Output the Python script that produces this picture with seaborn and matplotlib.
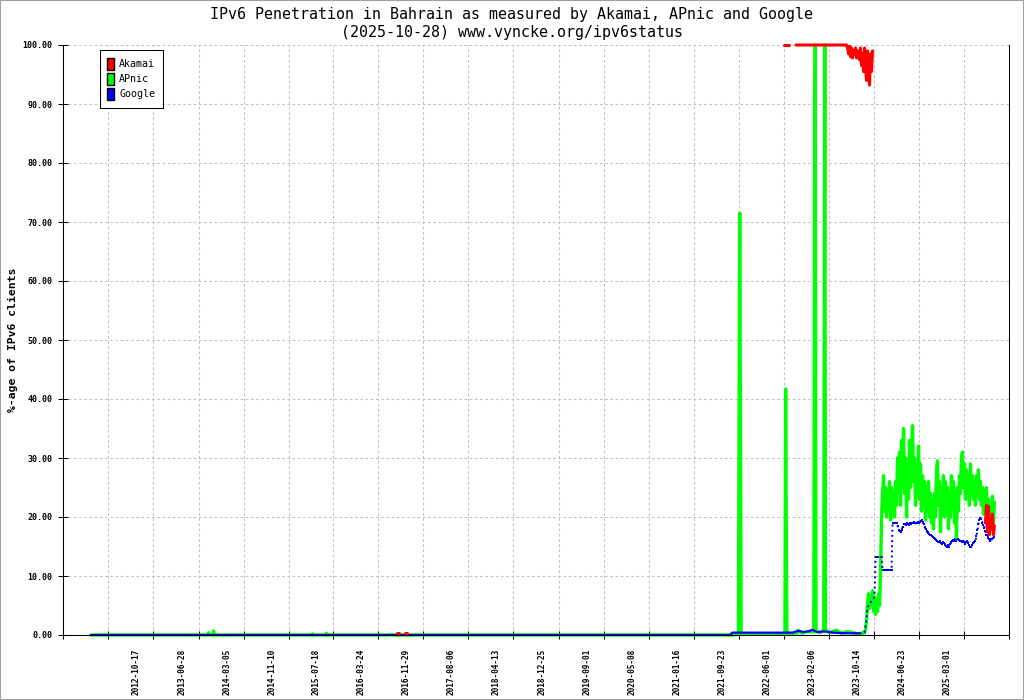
import pandas as pd
import seaborn as sns
import matplotlib.dates as mdates
from matplotlib import pyplot as plt, transforms
from matplotlib.patches import Patch, Rectangle

# --- data (percent of IPv6 clients) ---
# dense part, roughly one sample per pixel column from 2023-07 on
late_dates = pd.date_range("2023-07-27", "2025-08-16", periods=136)

apnic_early_dates = ["2011-11-05", "2013-08-15", "2013-08-21", "2013-08-27", "2013-09-14", "2013-09-18",
                     "2013-09-22", "2015-03-18", "2015-03-22", "2015-03-26", "2015-06-04", "2015-06-08",
                     "2015-06-12", "2021-08-10", "2021-08-14", "2021-08-18", "2021-09-20", "2021-09-27",
                     "2021-10-01", "2021-10-05", "2022-06-06", "2022-06-10", "2022-06-13", "2022-06-17",
                     "2022-08-10", "2022-08-20", "2022-09-10", "2022-10-05", "2022-11-14", "2022-11-18",
                     "2022-11-22", "2022-11-26", "2022-12-20", "2023-01-08", "2023-01-11", "2023-01-14",
                     "2023-01-18", "2023-02-10", "2023-03-20", "2023-04-15", "2023-05-20", "2023-07-20"]
apnic_early = [0.0, 0.0, 0.4, 0.0, 0.0, 0.7,
               0.0, 0.0, 0.2, 0.0, 0.0, 0.3,
               0.0, 0.0, 0.3, 0.0, 0.1, 71.5,
               35.5, 0.2, 0.2, 41.7, 21.0, 0.3,
               0.3, 0.8, 0.3, 0.6, 0.5, 75.0,
               100.0, 0.6, 0.4, 0.8, 50.0, 100.0,
               0.9, 0.4, 0.8, 0.3, 0.6, 0.2]
apnic_late = [0.2, 0.3, 0.2, 0.4, 0.3, 0.5, 1.0, 2.5, 5.5, 7.0,
              4.5, 6.5, 5.0, 7.5, 4.0, 6.5, 3.5, 6.0, 4.0, 7.0,
              5.0, 11.0, 20.0, 24.0, 27.0, 21.0, 25.0, 20.0, 24.0, 22.0,
              26.0, 19.5, 25.0, 21.0, 24.0, 20.0, 26.0, 22.0, 30.0, 24.0,
              31.0, 22.0, 33.0, 25.0, 35.0, 24.0, 30.0, 20.0, 29.0, 23.0,
              33.0, 25.0, 31.0, 35.5, 26.0, 30.0, 22.0, 28.0, 24.0, 32.0,
              23.0, 29.0, 21.0, 27.0, 22.0, 26.0, 19.5, 25.0, 21.0, 26.0,
              20.0, 24.0, 19.0, 23.0, 18.0, 24.0, 20.0, 28.0, 29.5, 22.0,
              26.0, 17.5, 25.0, 21.0, 27.0, 20.0, 26.0, 22.0, 25.0, 18.0,
              24.0, 20.0, 27.0, 22.0, 26.0, 19.0, 24.0, 16.5, 25.0, 21.0,
              27.0, 24.0, 30.0, 31.0, 25.0, 29.0, 23.0, 28.0, 24.0, 27.0,
              22.0, 29.0, 24.0, 27.0, 23.0, 26.0, 22.0, 27.0, 24.0, 28.0,
              23.0, 26.0, 22.0, 25.0, 20.5, 24.5, 21.0, 25.0, 19.5, 23.0,
              20.0, 22.0, 18.5, 23.5, 19.0, 22.5]

google_early_dates = ["2011-11-05", "2021-08-01", "2021-08-20", "2022-06-01", "2022-07-20", "2022-08-16",
                      "2022-09-20", "2022-10-15", "2022-11-05", "2022-12-01", "2023-01-10", "2023-03-01",
                      "2023-05-01", "2023-07-27"]
google_early = [0.0, 0.0, 0.4, 0.4, 0.4, 0.7, 0.5, 0.6, 0.9, 0.5, 0.6, 0.4, 0.3, 0.3]
google_late = [0.3, 0.3, 0.3, 0.3, 0.3, 0.4, 1.5, 3.0, 4.7, 5.0,
               5.2, 5.5, 5.8, 6.0, 6.2, 6.5, 13.2, 13.2, 13.2, 13.2,
               13.2, 13.2, 13.2, 11.0, 11.0, 11.0, 11.0, 11.0, 11.0, 11.0,
               11.0, 11.0, 11.0, 19.0, 19.0, 19.0, 19.0, 19.0, 18.5, 17.8,
               17.6, 17.5, 17.8, 18.3, 18.8, 18.8, 18.6, 18.9, 18.8, 18.7,
               18.9, 18.8, 19.0, 19.0, 19.1, 19.0, 18.9, 19.0, 19.1, 19.0,
               19.2, 19.3, 19.5, 19.2, 18.8, 18.3, 18.0, 17.6, 17.4, 17.3,
               17.2, 17.0, 16.9, 16.7, 16.6, 16.4, 16.3, 16.1, 16.0, 15.8,
               15.7, 15.9, 15.6, 15.5, 15.8, 15.6, 15.3, 15.1, 15.0, 15.2,
               15.0, 15.4, 15.8, 16.0, 16.1, 16.0, 16.2, 16.0, 16.2, 16.3,
               16.1, 16.0, 15.9, 15.8, 16.0, 15.7, 15.5, 15.8, 15.9, 15.6,
               15.3, 15.0, 14.9, 15.3, 15.6, 15.8, 16.0, 16.8, 17.8, 18.8,
               19.5, 19.8, 19.6, 19.0, 18.6, 18.2, 17.6, 17.0, 17.0, 16.5,
               16.2, 16.0, 16.2, 16.3, 16.5, 16.6]

akamai_dates = ["2016-07-08", "2016-07-16", "2016-08-20", "2016-08-28",
                "2022-06-01", "2022-06-29", "2022-08-07", "2023-05-15"]
akamai_vals = [0.3, 0.3, 0.3, 0.3, 100.0, 100.0, 100.0, 100.0]
akamai_seg = [0, 0, 1, 1, 2, 2, 3, 3]
akamai_drop_dates = pd.date_range("2023-05-21", "2023-10-07", periods=26)
akamai_drop = [99.5, 98.5, 99.8, 98.0, 99.5, 97.8, 99.0, 98.5, 99.5, 97.8,
               99.0, 98.3, 97.5, 99.5, 96.5, 98.5, 95.5, 99.5, 96.0, 94.0,
               99.0, 95.0, 93.2, 98.5, 95.5, 99.0]
akamai_end = [19.0, 22.0, 17.5, 21.8, 17.0, 19.5, 18.0, 20.5, 17.0, 18.5]

tick_dates = ["2011-06-02", "2012-02-09", "2012-10-17", "2013-06-28", "2014-03-05", "2014-11-10",
              "2015-07-18", "2016-03-24", "2016-11-29", "2017-08-06", "2018-04-13", "2018-12-25",
              "2019-09-01", "2020-05-08", "2021-01-16", "2021-09-23", "2022-06-01", "2023-02-06",
              "2023-10-14", "2024-06-23", "2025-03-01", "2025-11-07"]
tick_labels = ["", ""] + tick_dates[2:-1] + [""]
y_ticks = [0, 10, 20, 30, 40, 50, 60, 70, 80, 90, 100]

# --- frames ---
apnic = pd.DataFrame({"date": pd.to_datetime(apnic_early_dates).append(late_dates),
                      "pct": apnic_early + apnic_late})
google_a = pd.DataFrame({"date": pd.to_datetime(google_early_dates), "pct": google_early})
google_b = pd.DataFrame({"date": late_dates, "pct": google_late})
akamai = pd.concat([
    pd.DataFrame({"date": pd.to_datetime(akamai_dates), "pct": akamai_vals, "seg": akamai_seg}),
    pd.DataFrame({"date": akamai_drop_dates, "pct": akamai_drop, "seg": 3}),
    pd.DataFrame({"date": late_dates[-len(akamai_end):], "pct": akamai_end, "seg": 4}),
], ignore_index=True)

sns.set_theme(style="whitegrid")
plt.rcParams["font.family"] = ["DejaVu Sans Mono"]
plt.rcParams["text.color"] = "black"

fig = plt.figure(figsize=(10.24, 7.0), dpi=100)
ax = fig.add_axes([63 / 1024, 65 / 700, 946.3 / 1024, 590 / 700])

sns.lineplot(data=apnic, x="date", y="pct", color="#00ff00", lw=2.4, estimator=None,
             clip_on=False, ax=ax)
sns.lineplot(data=google_a, x="date", y="pct", color="#0000ff", lw=1.6, estimator=None, ax=ax)
sns.lineplot(data=google_b, x="date", y="pct", color="#0000ff", lw=1.4, linestyle=":",
             estimator=None, ax=ax)
sns.scatterplot(data=google_b, x="date", y="pct", color="#0000ff", marker="s", s=2.5,
                linewidth=0, ax=ax)
sns.lineplot(data=akamai, x="date", y="pct", units="seg", estimator=None, color="#ff0000",
             lw=2.2, clip_on=False, ax=ax)

ax.set_xlim(mdates.date2num(pd.Timestamp("2011-06-02")), mdates.date2num(pd.Timestamp("2025-11-07")))
ax.set_ylim(0, 100)
ax.set_xticks(mdates.date2num(pd.to_datetime(tick_dates)))
ax.set_xticklabels(tick_labels, rotation=90, fontsize=5.6, fontweight="bold", va="top")
ax.set_yticks(y_ticks)
ax.set_yticklabels([f"{v:.2f}" for v in y_ticks], fontsize=6, fontweight="bold")
ax.set_xlabel("")
ax.set_ylabel("")

ax.grid(True, color="#c0c0c0", linestyle=(0, (2.5, 2.5)), linewidth=0.75)
ax.tick_params(axis="y", left=True, direction="inout", length=6.5, width=0.75, pad=4.5, colors="black")
ax.tick_params(axis="x", bottom=True, direction="inout", length=6, width=0.75, pad=7, colors="black")
for side in ["left", "bottom", "right"]:
    ax.spines[side].set_color("black")
    ax.spines[side].set_linewidth(0.75)
ax.spines["top"].set_visible(False)

# gnuplot-like placement of the rotated date labels
shift = transforms.ScaledTranslation(-17 / 100, 0, fig.dpi_scale_trans)
for lbl in ax.get_xticklabels():
    lbl.set_transform(lbl.get_transform() + shift)

handles = [Patch(facecolor="#ff0000", edgecolor="black", linewidth=1),
           Patch(facecolor="#00ff00", edgecolor="black", linewidth=1),
           Patch(facecolor="#0000ff", edgecolor="black", linewidth=1)]
leg = ax.legend(handles, ["Akamai", "APnic", "Google"], loc="upper left",
                bbox_to_anchor=(0.039, 0.9915), borderaxespad=0, fontsize=7.2,
                handlelength=0.69, handleheight=1.54, labelspacing=0.26, handletextpad=0.47,
                borderpad=0.75, fancybox=False, framealpha=1)
leg.get_frame().set_edgecolor("black")
leg.get_frame().set_linewidth(0.75)
for txt in leg.get_texts():
    txt.set_color("black")

fig.text(0.5, 1 - 14 / 700, "IPv6 Penetration in Bahrain as measured by Akamai, APnic and Google",
         ha="center", va="center", fontsize=10.8, color="black")
fig.text(0.5, 1 - 32 / 700, "(2025-10-28) www.vyncke.org/ipv6status",
         ha="center", va="center", fontsize=10.8, color="black")
fig.text(13 / 1024, 1 - 340 / 700, "%-age of IPv6 clients", rotation=90, ha="center", va="center",
         fontsize=8.2, fontweight="bold", color="black")

fig.patches.append(Rectangle((0, 0), 1, 1, transform=fig.transFigure, fill=False,
                             edgecolor="#a0a0a0", linewidth=1.5))

fig.savefig("out.png", dpi=100)
